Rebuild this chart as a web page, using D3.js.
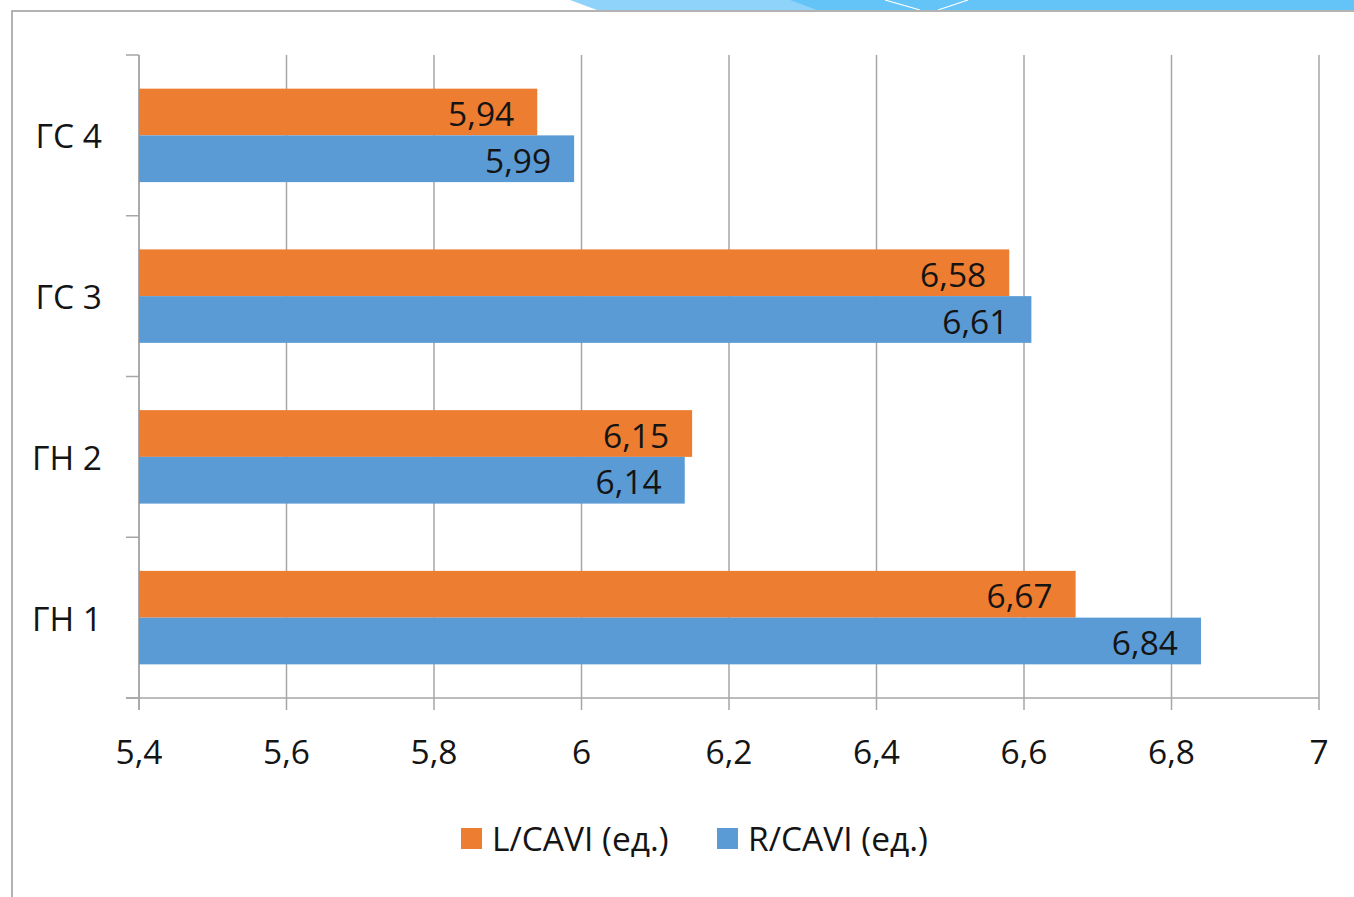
<!DOCTYPE html>
<html>
<head>
<meta charset="utf-8">
<script src="https://cdn.jsdelivr.net/npm/d3@7"></script>
<style>
  html, body { margin: 0; padding: 0; background: #fff; }
  svg { display: block; }
  text { font-family: "Open Sans", "Noto Sans", sans-serif; fill: #141414; }
</style>
</head>
<body>
<svg id="chart" width="1354" height="897"></svg>
<script>
// Categories listed bottom to top as they appear on the axis
const categories = ["ГН 1", "ГН 2", "ГС 3", "ГС 4"];
const seriesNames = ["L/CAVI (ед.)", "R/CAVI (ед.)"];
const leftCavi  = [6.67, 6.15, 6.58, 5.94];
const rightCavi = [6.84, 6.14, 6.61, 5.99];
const xTicks = [5.4, 5.6, 5.8, 6.0, 6.2, 6.4, 6.6, 6.8, 7.0];
const colors = ["#ED7D31", "#5B9BD5"];

const svg = d3.select("#chart");
const fmt = v => String(+v.toFixed(2)).replace(".", ",");
const fontSize = 33.5;

// Decorative band along the top edge
const deco = svg.append("g");
deco.append("polygon").attr("points", "570,0 1354,0 1354,10 597,10").attr("fill", "#8fd3fb");
deco.append("polygon").attr("points", "790,0 1354,0 1354,10 817,10").attr("fill", "#64c4f8");
deco.append("line").attr("x1", 885).attr("y1", 0).attr("x2", 920).attr("y2", 10).attr("stroke", "#fff").attr("stroke-width", 1.2);
deco.append("line").attr("x1", 968).attr("y1", 0).attr("x2", 938).attr("y2", 10).attr("stroke", "#fff").attr("stroke-width", 1.2);

// Outer frame
svg.append("rect").attr("x", 12).attr("y", 11).attr("width", 1360).attr("height", 900)
  .attr("fill", "none").attr("stroke", "#9a9a9a").attr("stroke-width", 1.5);

const plot = { left: 139, right: 1319, top: 55, bottom: 698 };

const x = d3.scaleLinear().domain([5.4, 7.0]).range([plot.left, plot.right]);
const y = d3.scaleBand().domain(categories.slice().reverse()).range([plot.top, plot.bottom]);
const inner = d3.scaleBand().domain(seriesNames).range([0, y.bandwidth()]).paddingOuter(0.72);

// Vertical gridlines
svg.append("g").selectAll("line").data(xTicks).join("line")
  .attr("x1", d => x(d)).attr("x2", d => x(d))
  .attr("y1", plot.top).attr("y2", plot.bottom + 12)
  .attr("stroke", "#a6a6a6").attr("stroke-width", 1.5);

// Category axis with tick marks between categories
const yTickPos = d3.range(categories.length + 1).map(i => plot.top + i * y.step());
svg.append("line").attr("x1", plot.left).attr("x2", plot.left)
  .attr("y1", plot.top).attr("y2", plot.bottom + 12)
  .attr("stroke", "#a6a6a6").attr("stroke-width", 1.5);
svg.append("g").selectAll("line").data(yTickPos).join("line")
  .attr("x1", plot.left - 13).attr("x2", plot.left)
  .attr("y1", d => d).attr("y2", d => d)
  .attr("stroke", "#a6a6a6").attr("stroke-width", 1.5);

// Value axis baseline
svg.append("line").attr("x1", plot.left - 13).attr("x2", plot.right)
  .attr("y1", plot.bottom).attr("y2", plot.bottom)
  .attr("stroke", "#a6a6a6").attr("stroke-width", 1.5);

// Bars
const rows = categories.map((c, i) => ({ cat: c, vals: [leftCavi[i], rightCavi[i]] }));
const groups = svg.append("g").selectAll("g").data(rows).join("g")
  .attr("transform", d => `translate(0,${y(d.cat)})`);

groups.selectAll("rect").data(d => d.vals.map((v, j) => ({ v, s: seriesNames[j], j }))).join("rect")
  .attr("x", x(5.4))
  .attr("y", d => inner(d.s))
  .attr("width", d => x(d.v) - x(5.4))
  .attr("height", inner.bandwidth())
  .attr("fill", d => colors[d.j]);

groups.selectAll("text").data(d => d.vals.map((v, j) => ({ v, s: seriesNames[j], j }))).join("text")
  .attr("x", d => x(d.v) - 23)
  .attr("y", d => inner(d.s) + inner.bandwidth() / 2 + 2)
  .attr("dy", "0.36em")
  .attr("text-anchor", "end")
  .attr("font-size", fontSize)
  .text(d => fmt(d.v));

// Category labels
svg.append("g").selectAll("text").data(categories).join("text")
  .attr("x", 102)
  .attr("y", d => y(d) + y.bandwidth() / 2 + 1)
  .attr("dy", "0.36em")
  .attr("text-anchor", "end")
  .attr("font-size", fontSize)
  .text(d => d);

// Value tick labels
svg.append("g").selectAll("text").data(xTicks).join("text")
  .attr("x", d => x(d))
  .attr("y", 752)
  .attr("dy", "0.36em")
  .attr("text-anchor", "middle")
  .attr("font-size", fontSize)
  .text(d => fmt(d));

// Legend
const legendX = [461, 717];
const legend = svg.append("g").selectAll("g").data(seriesNames).join("g")
  .attr("transform", (d, i) => `translate(${legendX[i]},828)`);
legend.append("rect").attr("width", 21).attr("height", 21).attr("fill", (d, i) => colors[i]);
legend.append("text").attr("x", 31).attr("y", 11).attr("dy", "0.36em")
  .attr("font-size", fontSize).text(d => d);
</script>
</body>
</html>
